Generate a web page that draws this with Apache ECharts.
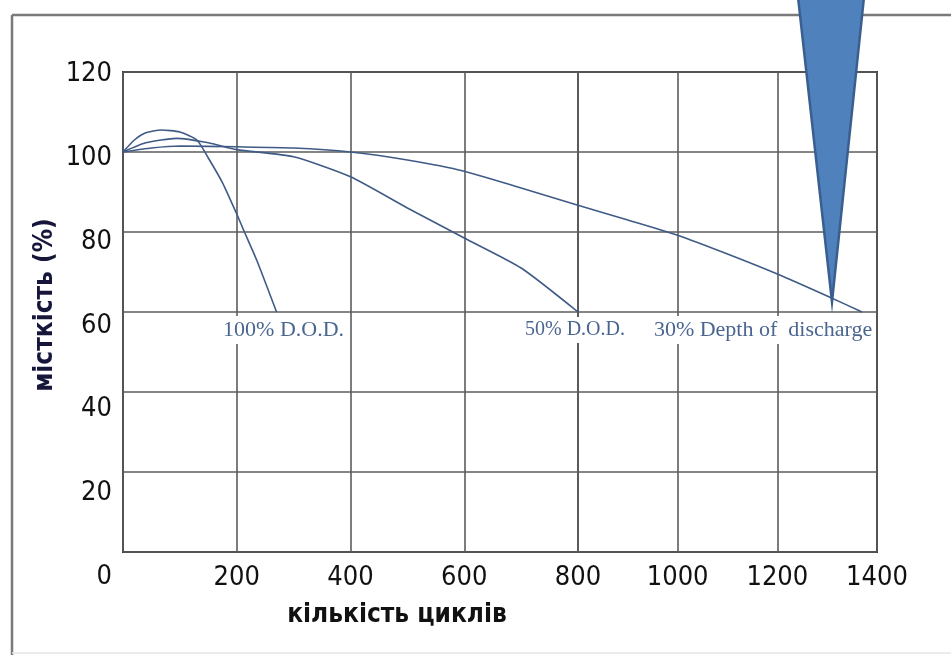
<!DOCTYPE html>
<html>
<head>
<meta charset="utf-8">
<script src="https://cdn.jsdelivr.net/npm/echarts@6/dist/echarts.min.js"></script>
<style>
html,body{margin:0;padding:0;background:#fff;}
#chart{width:951px;height:655px;}
</style>
</head>
<body>
<div id="chart"></div>
<script>
// ---- data (cycles, capacity %) ----
const dod100 = [[0,100],[20,103],[40,104.8],[67,105.5],[100,105],[130,103],[150,98.5],[175,92.3],[200,84.5],[212,80.5],[235,73],[270,60]];
const dod50 = [[0,100],[40,102.3],[94,103.4],[150,102.3],[200,100.6],[300,98.8],[400,93.8],[500,86],[600,78.5],[700,71],[800,60]];
const dod30 = [[0,100],[50,101],[100,101.5],[200,101.3],[300,101],[400,100],[500,98],[600,95.2],[700,91],[800,86.7],[900,83],[1000,79.2],[1100,74.5],[1200,69.5],[1300,64],[1370,60]];
const labels = ['100% D.O.D.', '50% D.O.D.', '30% Depth of  discharge'];
const xTicksA = [0,200,400,600,800];
const xTicksB = [800,1000,1200,1400];
const yTicks = [0,20,40,60,80,100,120];
const xTitle = 'кількість циклів';
const yTitle = 'місткість (%)';

const narrow = '"Liberation Sans Narrow","DejaVu Sans Condensed",sans-serif';
const lineColor = '#3f5b85';
const labelColor = '#4a6690';
const gridColor = '#5c5c5c';

const chart = echarts.init(document.getElementById('chart'), null, {renderer:'canvas'});

function xAxisFor(gi, ticks){
  return {
    type:'value', gridIndex:gi, min:ticks[0], max:ticks[ticks.length-1], interval:200,
    axisLine:{show:false}, axisTick:{show:false},
    splitLine:{show:true, lineStyle:{color:gridColor, width:1.6}},
    axisLabel:{
      show:true, margin:12, fontFamily:narrow, fontSize:27, lineHeight:27, color:'#111',
      formatter: v => (v === ticks[0] ? '' : String(v))
    }
  };
}
function yAxisFor(gi){
  return {
    type:'value', gridIndex:gi, min:yTicks[0], max:yTicks[yTicks.length-1], interval:20,
    axisLine:{show:false}, axisTick:{show:false}, axisLabel:{show:false},
    splitLine:{show:true, lineStyle:{color:gridColor, width:1.6}}
  };
}

const mpLabel = (txt, dx, dy, fs) => ({
  symbol:'circle', symbolSize:0, silent:true,
  label:{show:true, position:'inside', formatter:txt, offset:[dx,dy],
    fontFamily:'"Liberation Serif","DejaVu Serif",serif', fontSize:fs, color:labelColor,
    backgroundColor:'#fff', padding:[3,2]}
});

const lineBase = {type:'line', smooth:0.2, showSymbol:false, lineStyle:{color:lineColor, width:1.6}, clip:false};

const option = {
  animation:false,
  backgroundColor:'#fff',
  grid:[
    {left:123, right:373, top:72, bottom:103, show:true, borderColor:'#3a3a3a', borderWidth:2, backgroundColor:'transparent'},
    {left:578, right:74, top:72, bottom:103, show:true, borderColor:'#3a3a3a', borderWidth:2, backgroundColor:'transparent'},
    {left:123, right:74, top:74, bottom:78, show:false}
  ],
  xAxis:[
    xAxisFor(0, xTicksA),
    xAxisFor(1, xTicksB),
    {type:'value', gridIndex:2, min:0, max:1400, show:false}
  ],
  yAxis:[
    yAxisFor(0),
    yAxisFor(1),
    {type:'value', gridIndex:2, min:yTicks[0], max:yTicks[yTicks.length-1], interval:20,
     axisLine:{show:false}, axisTick:{show:false}, splitLine:{show:false},
     axisLabel:{show:true, margin:11, fontFamily:narrow, fontSize:27, color:'#111'}}
  ],
  series:[
    Object.assign({}, lineBase, {name:labels[0], xAxisIndex:0, yAxisIndex:0, data:dod100,
     markPoint:Object.assign(mpLabel(labels[0], 7, 18, 22), {data:[{coord:dod100[dod100.length-1]}]})}),
    Object.assign({}, lineBase, {name:labels[1], xAxisIndex:0, yAxisIndex:0, data:dod50,
     markPoint:Object.assign(mpLabel(labels[1], -3, 18, 20), {data:[{coord:dod50[dod50.length-1]}]})}),
    Object.assign({}, lineBase, {name:labels[2], xAxisIndex:0, yAxisIndex:0, data:dod30.filter(p => p[0] <= 800)}),
    Object.assign({}, lineBase, {name:labels[2], xAxisIndex:1, yAxisIndex:1, data:dod30.filter(p => p[0] >= 800),
     markPoint:Object.assign(mpLabel(labels[2], -99, 18, 22), {data:[{coord:dod30[dod30.length-1]}]})}),
    {type:'line', xAxisIndex:2, yAxisIndex:2, data:[], silent:true}
  ],
  graphic:[
    {type:'line', shape:{x1:12, y1:15, x2:12, y2:655}, style:{stroke:'#7a7a7a', lineWidth:2.5}, z:1},
    {type:'line', shape:{x1:12, y1:15, x2:951, y2:15}, style:{stroke:'#7a7a7a', lineWidth:2.5}, z:1},
    {type:'line', shape:{x1:12, y1:653, x2:951, y2:653}, style:{stroke:'#e4e4e4', lineWidth:1.5}, z:1},
    {type:'text', x:397, y:615, style:{text:xTitle, fontFamily:narrow, fontWeight:'bold', fontSize:26, fill:'#111', align:'center', verticalAlign:'middle'}},
    {type:'text', x:45, y:305, rotation:Math.PI/2, style:{text:yTitle, fontFamily:narrow, fontWeight:'bold', fontSize:26, fill:'#16163a', align:'center', verticalAlign:'middle'}},
    {type:'polygon', shape:{points:[[798,-3],[864,-3],[832,302]]}, style:{fill:'#4f81bd', stroke:'#3a5f8f', lineWidth:2.5}, z:100}
  ]
};
chart.setOption(option);
</script>
</body>
</html>
